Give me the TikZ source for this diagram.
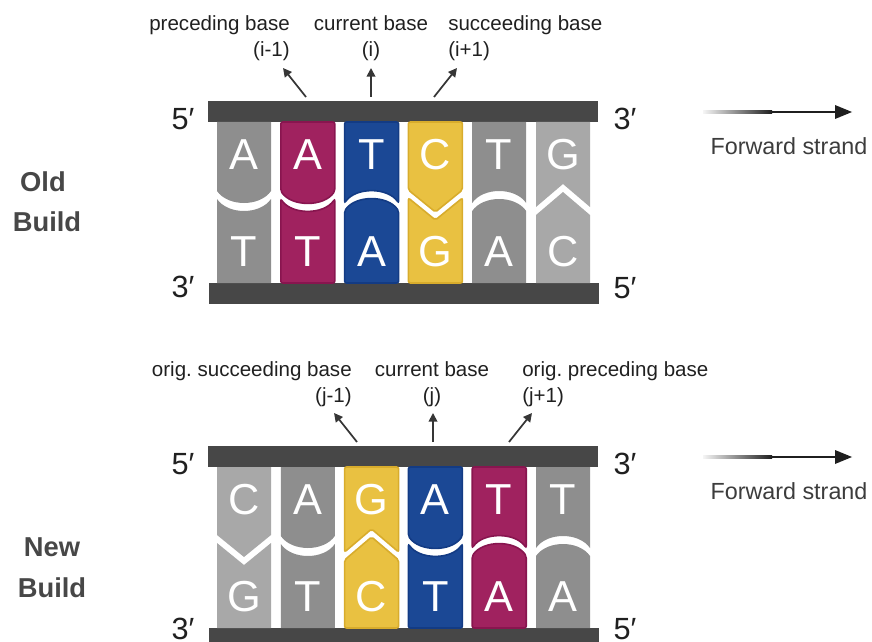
\documentclass[tikz,border=0pt]{standalone}
\usepackage{fontspec}
\setmainfont{Liberation Sans}
\usetikzlibrary{arrows.meta}

\definecolor{barc}{HTML}{474747}
\definecolor{greyd}{HTML}{8E8E8E}
\definecolor{greyl}{HTML}{A8A8A8}
\definecolor{magf}{HTML}{A0225F}
\definecolor{magd}{HTML}{88154F}
\definecolor{bluf}{HTML}{1B4895}
\definecolor{blud}{HTML}{133B84}
\definecolor{yelf}{HTML}{E9C141}
\definecolor{yeld}{HTML}{D8AC2C}
\definecolor{inkc}{HTML}{202020}
\definecolor{headc}{HTML}{474747}
\definecolor{fwdc}{HTML}{3C3C3C}

\tikzset{
  strandbar/.style={fill=barc},
  darkgreybase/.style={fill=greyd},
  lightgreybase/.style={fill=greyl},
  magentabase/.style={fill=magf, draw=magd, line width=1.2pt, rounded corners=1.5pt},
  bluebase/.style={fill=bluf, draw=blud, line width=1.2pt, rounded corners=1.5pt},
  yellowbase/.style={fill=yelf, draw=yeld, line width=1.2pt, rounded corners=1.5pt},
  baselet/.style={text=white, font=\fontsize{32.5}{32.5}\selectfont, inner sep=0pt},
  endlbl/.style={text=inkc, font=\fontsize{23}{23}\selectfont, inner sep=0pt},
  ptrlbl/.style={text=inkc, font=\fontsize{15.4}{18}\selectfont, inner sep=0pt},
  headlbl/.style={text=headc, font=\bfseries\fontsize{20.5}{22}\selectfont, inner sep=0pt},
  fwdlbl/.style={text=fwdc, font=\fontsize{17.5}{20}\selectfont, inner sep=0pt},
  pointer/.style={draw=inkc!90, line width=1.3pt, -{Triangle[length=6.5pt,width=6.5pt]}},
}

% One base pair column: #1 left x, #2 vertical offset, #3/#4 interface
% height at the sides / in the middle, #5 r (round) or v (pointed),
% #6 fill style, #7/#8 upper/lower letter, #9 name prefix
\newcommand\basepair[9]{%
  \pgfmathsetmacro\bpxa{#1}%
  \pgfmathsetmacro\bpxb{#1+54}%
  \pgfmathsetmacro\bpxm{#1+27}%
  \pgfmathsetmacro\bpyt{#2+122}%
  \pgfmathsetmacro\bpyb{#2+283}%
  \pgfmathsetmacro\bpsa{#2+#3-4}%
  \pgfmathsetmacro\bpca{#2+#4-4}%
  \pgfmathsetmacro\bpsb{#2+#3+4}%
  \pgfmathsetmacro\bpcb{#2+#4+4}%
  \pgfmathsetmacro\bpka{\bpsa+4/3*(\bpca-\bpsa)}%
  \pgfmathsetmacro\bpkb{\bpsb+4/3*(\bpcb-\bpsb)}%
  \if r#5
    \path[#6] (\bpxa,\bpyt) -- (\bpxb,\bpyt) -- (\bpxb,\bpsa)
      .. controls (\bpxb-11,\bpka) and (\bpxa+11,\bpka) .. (\bpxa,\bpsa) -- cycle;
    \path[#6] (\bpxa,\bpyb) -- (\bpxb,\bpyb) -- (\bpxb,\bpsb)
      .. controls (\bpxb-11,\bpkb) and (\bpxa+11,\bpkb) .. (\bpxa,\bpsb) -- cycle;
  \else
    \path[#6] (\bpxa,\bpyt) -- (\bpxb,\bpyt) -- (\bpxb,\bpsa) -- (\bpxm,\bpca) -- (\bpxa,\bpsa) -- cycle;
    \path[#6] (\bpxa,\bpyb) -- (\bpxb,\bpyb) -- (\bpxb,\bpsb) -- (\bpxm,\bpcb) -- (\bpxa,\bpsb) -- cycle;
  \fi
  \node[baselet] (#9t) at (\bpxm,#2+155) {#7};
  \node[baselet] (#9b) at (\bpxm,#2+252) {#8};
}

\begin{document}
\begin{tikzpicture}[x=0.75pt,y=-0.75pt]
\useasboundingbox (0,0) rectangle (872,642);
\clip (0,0) rectangle (872,642);

% ---------------- old build ----------------
\path[strandbar] (208,101) rectangle (598,122);
\path[strandbar] (209,283) rectangle (599,304);

\basepair{217}{0}{195}{207}{r}{darkgreybase}{A}{T}{o1}
\basepair{280.8}{0}{195}{207}{r}{magentabase}{A}{T}{o2}
\basepair{344.6}{0}{207}{195}{r}{bluebase}{T}{A}{o3}
\basepair{408.4}{0}{194}{216}{v}{yellowbase}{C}{G}{o4}
\basepair{472.2}{0}{207}{195}{r}{darkgreybase}{T}{A}{o5}
\basepair{536}{0}{211}{188}{v}{lightgreybase}{G}{C}{o6}

\node[endlbl] (o5l) at (183,119) {5′};
\node[endlbl] (o3l) at (183,287) {3′};
\node[endlbl] (o3r) at (625,119) {3′};
\node[endlbl] (o5r) at (625,288) {5′};

\node[headlbl] (oldw) at (43,182) {Old};
\node[headlbl] (oldb) at (47,222) {Build};

\node[ptrlbl, anchor=base east] (oprev)  at (290,31) {preceding base};
\node[ptrlbl, anchor=base east] (oprevi) at (290,57) {(i-1)};
\node[ptrlbl, anchor=base]      (ocur)   at (371,31) {current base};
\node[ptrlbl, anchor=base]      (ocuri)  at (371,57) {(i)};
\node[ptrlbl, anchor=base west] (onext)  at (448,31) {succeeding base};
\node[ptrlbl, anchor=base west] (onexti) at (448,57) {(i+1)};

\coordinate (op1a) at (306,97);  \coordinate (op1b) at (283,68);
\coordinate (op2a) at (371,97);  \coordinate (op2b) at (371,68);
\coordinate (op3a) at (434,97);  \coordinate (op3b) at (457,68);
\draw[pointer] (op1a) -- (op1b);
\draw[pointer] (op2a) -- (op2b);
\draw[pointer] (op3a) -- (op3b);

\shade[left color=black!4, right color=black!88] (703,110.6) rectangle (772,113.4);
\fill[black!88] (771.5,110.6) rectangle (838,113.4);
\fill[black!88] (835,105) -- (852,112) -- (835,119) -- cycle;
\node[fwdlbl] (ofwd) at (789,146) {Forward strand};

% ---------------- new build ----------------
\path[strandbar] (208,446) rectangle (598,467);
\path[strandbar] (209,628) rectangle (599,649);

\basepair{217}{345}{194}{216}{v}{lightgreybase}{C}{G}{n1}
\basepair{280.8}{345}{195}{207}{r}{darkgreybase}{A}{T}{n2}
\basepair{344.6}{345}{211}{188}{v}{yellowbase}{G}{C}{n3}
\basepair{408.4}{345}{195}{207}{r}{bluebase}{A}{T}{n4}
\basepair{472.2}{345}{207}{195}{r}{magentabase}{T}{A}{n5}
\basepair{536}{345}{207}{195}{r}{darkgreybase}{T}{A}{n6}

\node[endlbl] (n5l) at (183,464) {5′};
\node[endlbl] (n3l) at (183,629) {3′};
\node[endlbl] (n3r) at (625,464) {3′};
\node[endlbl] (n5r) at (625,629) {5′};

\node[headlbl] (neww) at (52,547) {New};
\node[headlbl] (newb) at (52,588) {Build};

\node[ptrlbl, anchor=base east] (nnext)  at (352,376) {orig.\ succeeding base};
\node[ptrlbl, anchor=base east] (nnexti) at (352,402) {(j-1)};
\node[ptrlbl, anchor=base]      (ncur)   at (432,376) {current base};
\node[ptrlbl, anchor=base]      (ncuri)  at (432,402) {(j)};
\node[ptrlbl, anchor=base west] (nprev)  at (522,376) {orig.\ preceding base};
\node[ptrlbl, anchor=base west] (nprevi) at (522,402) {(j+1)};

\coordinate (np1a) at (357,442);  \coordinate (np1b) at (334,413);
\coordinate (np2a) at (433,442);  \coordinate (np2b) at (433,413);
\coordinate (np3a) at (509,442);  \coordinate (np3b) at (532,413);
\draw[pointer] (np1a) -- (np1b);
\draw[pointer] (np2a) -- (np2b);
\draw[pointer] (np3a) -- (np3b);

\shade[left color=black!4, right color=black!88] (703,455.6) rectangle (772,458.4);
\fill[black!88] (771.5,455.6) rectangle (838,458.4);
\fill[black!88] (835,450) -- (852,457) -- (835,464) -- cycle;
\node[fwdlbl] (nfwd) at (789,491) {Forward strand};
\end{tikzpicture}
\end{document}
